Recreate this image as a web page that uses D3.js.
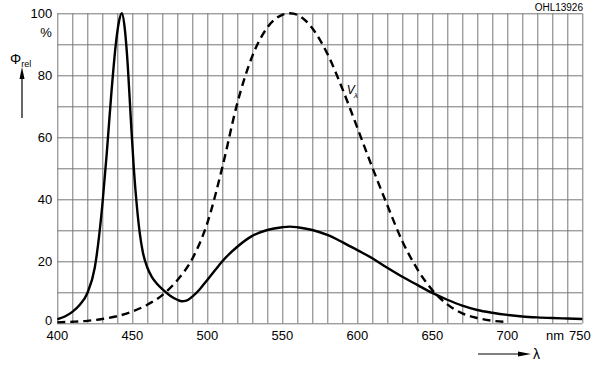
<!DOCTYPE html>
<html>
<head>
<meta charset="utf-8">
<script src="https://cdn.jsdelivr.net/npm/d3@7"></script>
<style>
  body { margin: 0; background: #fff; }
  text { font-family: "Liberation Sans", Arial, sans-serif; fill: #000; }
</style>
</head>
<body>
<div id="chart"></div>
<script>
// chart size - change these up here
var width = 600,
    height = 369;

// tick labels
var xTicks = [400, 450, 500, 550, 600, 650, 700, 750];
var yTicks = [0, 20, 40, 60, 80, 100];

// solid curve (LED spectrum)
var ledNm  = [400, 405, 410, 415, 420, 425, 430, 433, 436, 439, 441, 443, 445, 447, 449, 451, 453, 455, 457, 460, 463, 466, 470, 475, 480, 483, 486, 490, 495, 500, 505, 510, 520, 530, 540, 550, 555, 560, 570, 580, 590, 600, 610, 620, 630, 640, 650, 660, 670, 680, 690, 700, 710, 720, 730, 740, 750];
var ledVal = [1.3, 2.2, 3.7, 6, 9.7, 18, 38, 55, 74, 90, 97, 100, 95, 83, 66, 50, 38, 29, 23, 18, 15, 13, 11, 9, 7.6, 7.1, 7.3, 8.6, 11, 14, 17, 20, 24.7, 28.2, 30.1, 31, 31.2, 31, 30.1, 28.5, 26.2, 23.6, 21, 17.9, 15, 12.4, 9.8, 7.6, 5.7, 4.3, 3.4, 2.7, 2.2, 1.9, 1.7, 1.55, 1.4];

// dashed curve (eye sensitivity V lambda)
var vNm  = [400, 410, 420, 430, 440, 450, 460, 470, 480, 490, 500, 510, 520, 530, 540, 550, 555, 560, 570, 580, 590, 600, 610, 620, 630, 640, 650, 660, 670, 680, 690, 700];
var vVal = [0.3, 0.5, 0.8, 1.4, 2.3, 3.8, 6, 9.1, 13.9, 20.8, 32.3, 50.3, 71, 86.2, 95.4, 99.5, 100, 99.5, 95.2, 87, 75.7, 63.1, 50.3, 38.1, 26.5, 17.5, 10.7, 6.1, 3.2, 1.7, 0.82, 0.41];

var margin = {left: 57.3, top: 13.3, right: 600 - 582.3, bottom: 369 - 323.3};
var pw = width - margin.left - margin.right,
    ph = height - margin.top - margin.bottom;

var svg = d3.select("#chart")
  .append("svg")
    .attr("width", width)
    .attr("height", height);

var g = svg.append("g")
    .attr("transform", "translate(" + margin.left + "," + margin.top + ")");

var x = d3.scaleLinear().domain([400, 750]).range([0, pw]);
var y = d3.scaleLinear().domain([0, 100]).range([ph, 0]);

// grid: every 10 nm and every 10 %
g.append("g")
    .attr("transform", "translate(0," + ph + ")")
    .call(d3.axisBottom(x).tickValues(d3.range(400, 751, 10)).tickSize(-ph).tickFormat(""))
    .call(function(a) {
        a.select(".domain").remove();
        a.selectAll("line").attr("stroke", "#777").attr("stroke-width", 1);
    });
g.append("g")
    .call(d3.axisLeft(y).tickValues(d3.range(0, 101, 10)).tickSize(-pw).tickFormat(""))
    .call(function(a) {
        a.select(".domain").remove();
        a.selectAll("line").attr("stroke", "#777").attr("stroke-width", 1);
    });

// tick labels
g.selectAll("text.xl")
    .data(xTicks)
    .enter()
    .append("text")
    .attr("class", "xl")
    .attr("x", function(d) { return x(d) - (d == 750 ? 2.5 : 0); })
    .attr("y", ph + 17)
    .attr("text-anchor", "middle")
    .attr("font-size", 13)
    .text(function(d) { return d; });

g.selectAll("text.yl")
    .data(yTicks)
    .enter()
    .append("text")
    .attr("class", "yl")
    .attr("x", -5)
    .attr("y", function(d) { return y(d) + (d == 0 ? 2 : 4.5); })
    .attr("text-anchor", "end")
    .attr("font-size", 13)
    .text(function(d) { return d; });

// curves
var ledData = ledNm.map(function(d, i) { return {x: d, y: ledVal[i]}; });
var vData = vNm.map(function(d, i) { return {x: d, y: vVal[i]}; });

var line = d3.line()
    .x(function(d) { return x(d.x); })
    .y(function(d) { return y(d.y); })
    .curve(d3.curveMonotoneX);

g.append("path")
    .datum(vData)
    .attr("d", line)
    .attr("fill", "none")
    .attr("stroke", "#000")
    .attr("stroke-width", 2.4)
    .attr("stroke-dasharray", "8,5");

g.append("path")
    .datum(ledData)
    .attr("d", line)
    .attr("fill", "none")
    .attr("stroke", "#000")
    .attr("stroke-width", 2.4);

// V lambda label
var vl = g.append("text")
    .attr("x", x(593))
    .attr("y", y(74))
    .attr("font-family", "Liberation Serif, serif")
    .attr("font-style", "italic")
    .attr("font-size", 12);
vl.append("tspan").text("V");
vl.append("tspan").attr("font-size", 8).attr("dy", 4).attr("dx", -1).text("λ");

// annotations outside the plot
svg.append("text")
    .attr("x", 583)
    .attr("y", 11)
    .attr("text-anchor", "end")
    .attr("font-size", 10)
    .text("OHL13926");

svg.append("text")
    .attr("x", 46)
    .attr("y", 37)
    .attr("text-anchor", "middle")
    .attr("font-size", 13)
    .text("%");

var phi = svg.append("text")
    .attr("x", 10)
    .attr("y", 64)
    .attr("font-size", 14);
phi.append("tspan").text("Φ");
phi.append("tspan").attr("font-size", 9).attr("dy", 3).text("rel");

svg.append("line")
    .attr("x1", 22).attr("y1", 118)
    .attr("x2", 22).attr("y2", 76)
    .attr("stroke", "#000").attr("stroke-width", 1.2);
svg.append("path")
    .attr("d", "M22,67 L19.5,79 L24.5,79 Z")
    .attr("fill", "#000");

svg.append("text")
    .attr("x", 555)
    .attr("y", 340)
    .attr("text-anchor", "middle")
    .attr("font-size", 13)
    .text("nm");

svg.append("line")
    .attr("x1", 478).attr("y1", 354)
    .attr("x2", 520).attr("y2", 354)
    .attr("stroke", "#000").attr("stroke-width", 1.2);
svg.append("path")
    .attr("d", "M531,354 L518,351.5 L518,356.5 Z")
    .attr("fill", "#000");
svg.append("text")
    .attr("x", 533)
    .attr("y", 359)
    .attr("font-size", 14)
    .text("λ");
</script>
</body>
</html>
